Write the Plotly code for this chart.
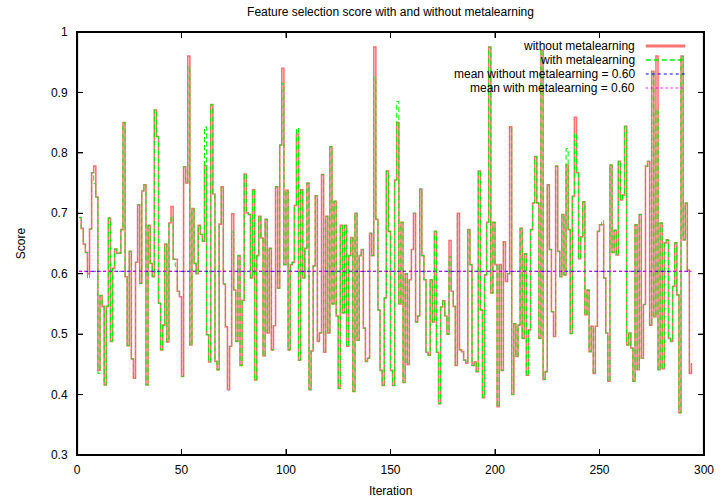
import plotly.graph_objects as go

# ---------------- data ----------------
iterations = list(range(1, 295))

score_without = [
    0.693, 0.675, 0.649, 0.635, 0.600, 0.674, 0.767, 0.778, 0.727, 0.440,
    0.564, 0.546, 0.416, 0.546, 0.692, 0.488, 0.609, 0.641, 0.634, 0.634,
    0.673, 0.850, 0.595, 0.481, 0.637, 0.459, 0.427, 0.619, 0.714, 0.584,
    0.737, 0.747, 0.416, 0.680, 0.617, 0.595, 0.871, 0.827, 0.551, 0.474,
    0.515, 0.649, 0.487, 0.684, 0.711, 0.624, 0.624, 0.571, 0.562, 0.430,
    0.777, 0.750, 0.960, 0.482, 0.708, 0.617, 0.600, 0.680, 0.665, 0.654,
    0.779, 0.499, 0.454, 0.880, 0.732, 0.455, 0.441, 0.682, 0.744, 0.583,
    0.512, 0.408, 0.480, 0.699, 0.573, 0.488, 0.630, 0.448, 0.556, 0.765,
    0.701, 0.698, 0.593, 0.739, 0.424, 0.630, 0.695, 0.659, 0.464, 0.690,
    0.502, 0.642, 0.474, 0.514, 0.744, 0.576, 0.813, 0.940, 0.615, 0.738,
    0.474, 0.615, 0.619, 0.713, 0.831, 0.457, 0.739, 0.593, 0.642, 0.750,
    0.408, 0.472, 0.613, 0.729, 0.488, 0.502, 0.764, 0.470, 0.695, 0.502,
    0.810, 0.550, 0.720, 0.530, 0.410, 0.680, 0.535, 0.680, 0.480, 0.630,
    0.660, 0.405, 0.700, 0.490, 0.630, 0.640, 0.510, 0.455, 0.460, 0.667,
    0.630, 0.975, 0.690, 0.540, 0.440, 0.415, 0.560, 0.770, 0.670, 0.440,
    0.415, 0.755, 0.850, 0.550, 0.685, 0.420, 0.600, 0.450, 0.590, 0.640,
    0.700, 0.520, 0.530, 0.740, 0.630, 0.590, 0.470, 0.465, 0.590, 0.520,
    0.670, 0.470, 0.385, 0.545, 0.555, 0.530, 0.500, 0.655, 0.571, 0.546,
    0.448, 0.700, 0.474, 0.471, 0.457, 0.452, 0.673, 0.615, 0.448, 0.454,
    0.438, 0.770, 0.540, 0.395, 0.598, 0.685, 0.975, 0.568, 0.685, 0.615,
    0.380, 0.615, 0.440, 0.653, 0.587, 0.600, 0.843, 0.400, 0.517, 0.463,
    0.515, 0.675, 0.493, 0.633, 0.432, 0.507, 0.673, 0.717, 0.794, 0.717,
    0.493, 0.970, 0.425, 0.438, 0.747, 0.640, 0.537, 0.496, 0.778, 0.637,
    0.595, 0.698, 0.598, 0.780, 0.673, 0.501, 0.728, 0.859, 0.767, 0.625,
    0.661, 0.719, 0.532, 0.573, 0.471, 0.513, 0.435, 0.513, 0.670, 0.681,
    0.681, 0.593, 0.502, 0.422, 0.780, 0.635, 0.672, 0.631, 0.786, 0.722,
    0.730, 0.844, 0.482, 0.502, 0.477, 0.422, 0.681, 0.441, 0.698, 0.460,
    0.549, 0.778, 0.786, 0.515, 0.935, 0.529, 0.960, 0.441, 0.684, 0.443,
    0.651, 0.656, 0.493, 0.488, 0.579, 0.651, 0.565, 0.370, 0.960, 0.656,
    0.717, 0.606, 0.435, 0.452,
]

# iterations where the run with metalearning differs from the one without
with_diff_iter = [5, 8, 10, 45, 47, 53, 61, 74, 98, 105, 142, 153, 178, 234, 238, 251, 277]
with_diff_vals = [0.592, 0.749, 0.435, 0.695, 0.612, 0.942, 0.843, 0.669, 0.915, 0.841,
                  0.925, 0.885, 0.628, 0.807, 0.832, 0.688, 0.872]

score_with = list(score_without)
for it, v in zip(with_diff_iter, with_diff_vals):
    score_with[it - 1] = v

mean_without = 0.604
mean_with = 0.604

legend_labels = [
    "without metalearning",
    "with metalearning",
    "mean without metalearning = 0.60",
    "mean with metalearning = 0.60",
]

x_range = [0, 300]
y_range = [0.3, 1.0]
x_ticks = [0, 50, 100, 150, 200, 250, 300]
y_ticks = [0.3, 0.4, 0.5, 0.6, 0.7, 0.8, 0.9, 1.0]
y_tick_text = ["0.3", "0.4", "0.5", "0.6", "0.7", "0.8", "0.9", "1"]

# ---------------- styles ----------------
FONT = "Liberation Sans, Arial, sans-serif"
INK = "#000000"
styles = [
    dict(color="rgba(255,0,0,0.55)", width=1.6, dash="solid"),
    dict(color="#00ee00", width=1.0, dash="5px,3px"),
    dict(color="#0000ff", width=1.0, dash="3px,3px"),
    dict(color="#ff00ff", width=1.0, dash="2px,3px"),
]
legend_widths = [3.0, 1.3, 1.2, 1.2]

W, H = 726, 504
L, R, T, B = 77, 14, 32, 49
pw, ph = W - L - R, H - T - B

fig = go.Figure()
fig.add_trace(go.Scatter(x=iterations, y=score_without, mode="lines",
                         line=dict(shape="hv", **styles[0]), name=legend_labels[0]))
fig.add_trace(go.Scatter(x=iterations, y=score_with, mode="lines",
                         line=dict(shape="hv", **styles[1]), name=legend_labels[1]))
fig.add_trace(go.Scatter(x=iterations, y=[mean_without] * len(iterations), mode="lines",
                         line=styles[2], name=legend_labels[2]))
fig.add_trace(go.Scatter(x=iterations, y=[mean_with] * len(iterations), mode="lines",
                         line=styles[3], name=legend_labels[3]))

# plot border as a trace along the axis range (half of it is clipped -> ~1px visible)
fig.add_trace(go.Scatter(
    x=[x_range[0], x_range[1], x_range[1], x_range[0], x_range[0]],
    y=[y_range[0], y_range[0], y_range[1], y_range[1], y_range[0]],
    mode="lines", line=dict(color=INK, width=2.2), showlegend=False))

# inside tick marks (gnuplot style), as short trace segments along each edge
tx_len = 6 / pw * (x_range[1] - x_range[0])
ty_len = 6 / ph * (y_range[1] - y_range[0])
tick_x, tick_y = [], []
for xv in x_ticks:
    tick_x += [xv, xv, None, xv, xv, None]
    tick_y += [y_range[0], y_range[0] + ty_len, None, y_range[1], y_range[1] - ty_len, None]
for yv in y_ticks:
    tick_x += [x_range[0], x_range[0] + tx_len, None, x_range[1], x_range[1] - tx_len, None]
    tick_y += [yv, yv, None, yv, yv, None]
fig.add_trace(go.Scatter(x=tick_x, y=tick_y, mode="lines", connectgaps=False,
                         line=dict(color=INK, width=1), showlegend=False))

def px_x(px):
    return (px - L) / pw

def px_y(py):
    return 1 - (py - T) / ph

annotations = []
shapes = []
row_y = [46, 60, 74, 88]
for lab, st, lw, py in zip(legend_labels, styles, legend_widths, row_y):
    annotations.append(dict(text=lab, x=px_x(644), y=px_y(py), xref="paper", yref="paper",
                            xanchor="right", yanchor="middle", showarrow=False,
                            font=dict(family=FONT, size=12, color=INK)))
    shapes.append(dict(type="line", xref="paper", yref="paper",
                       x0=px_x(653), x1=px_x(693), y0=px_y(py), y1=px_y(py),
                       line=dict(color=st["color"], width=lw, dash=st["dash"])))

annotations.append(dict(text="Score", x=px_x(20), y=px_y(243.5), xref="paper", yref="paper",
                        textangle=-90, showarrow=False, xanchor="center", yanchor="middle",
                        font=dict(family=FONT, size=12, color=INK)))
annotations.append(dict(text="Iteration", x=px_x(394.5), y=px_y(491), xref="paper", yref="paper",
                        showarrow=False, xanchor="center", yanchor="middle",
                        font=dict(family=FONT, size=12, color=INK)))

axis_common = dict(showline=True, linecolor=INK, linewidth=1, mirror="allticks",
                   ticks="inside", ticklen=6, tickcolor=INK, tickwidth=1, showgrid=False,
                   zeroline=False, layer="above traces",
                   tickfont=dict(family=FONT, size=12, color=INK))

fig.update_layout(
    width=W, height=H, autosize=False,
    margin=dict(l=L, r=R, t=T, b=B),
    paper_bgcolor="white", plot_bgcolor="white",
    showlegend=False, hovermode=False,
    title=dict(text="Feature selection score with and without metalearning",
               x=0.5, xref="paper", y=1 - 12 / H, yref="container",
               xanchor="center", yanchor="middle",
               font=dict(family=FONT, size=12, color=INK)),
    xaxis=dict(range=x_range, tickvals=x_ticks, ticklabelstandoff=4, **axis_common),
    yaxis=dict(range=y_range, tickvals=y_ticks, ticktext=y_tick_text,
               ticklabelstandoff=6, **axis_common),
    annotations=annotations,
    shapes=shapes,
)

post = ("document.body.style.margin='0';document.body.style.padding='0';"
        "document.body.style.overflow='hidden';"
        "var gd=document.getElementById('{plot_id}');"
        "Plotly.relayout(gd,{width:726,height:504});")

fig.write_html("out.html",
               config={"responsive": False, "displayModeBar": False, "staticPlot": True},
               post_script=post)
